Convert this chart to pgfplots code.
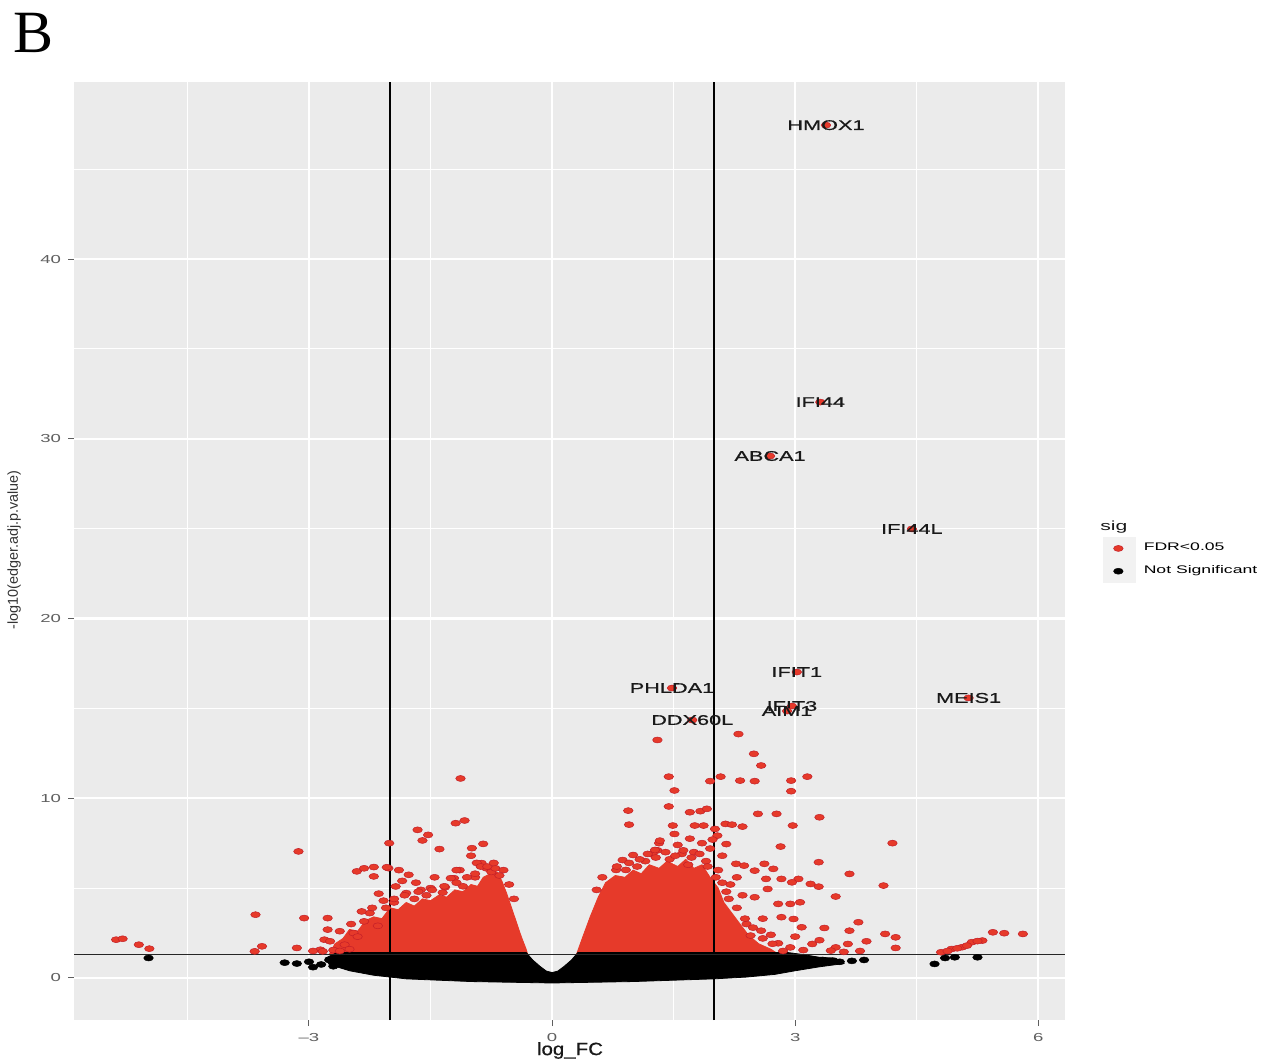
\documentclass[border=0pt]{standalone}
\usepackage{fontspec}
\setmainfont{Liberation Sans}
\newfontfamily\stretchsf[FakeStretch=1.6]{Liberation Sans}
\newfontfamily\labelsf[FakeStretch=1.55,FakeBold=0.8]{Liberation Sans}
\newfontfamily\midsf[FakeStretch=1.15,FakeBold=0.6]{Liberation Sans}
\newfontfamily\serifB{Liberation Serif}
\usepackage{pgfplots}
\pgfplotsset{compat=1.18}
\definecolor{myred}{RGB}{230,58,42}
\definecolor{mydarkred}{RGB}{195,30,40}
\definecolor{panelgray}{RGB}{235,235,235}
\definecolor{tickgray}{RGB}{95,95,95}
\pgfplotsset{
  redpts/.style={only marks, mark=*, mark size=1.5pt, mark options={xscale=1.6, fill=myred, draw=mydarkred, line width=0.25pt}},
  blkpts/.style={only marks, mark=*, mark size=1.5pt, mark options={xscale=1.6, fill=black, draw=black, line width=0.25pt}},
}
\begin{document}
\begin{tikzpicture}
\useasboundingbox (-37pt,-20.5pt) rectangle (604.5pt,510pt);
\begin{axis}[
  scale only axis, width=495.5pt, height=469pt,
  at={(0pt,0pt)}, anchor=south west,
  xmin=-5.90, xmax=6.33, ymin=-2.34, ymax=49.85,
  axis background/.style={fill=panelgray},
  axis line style={draw=none},
  xtick={-3,0,3,6}, xticklabels={{–3},0,3,6},
  ytick={0,10,20,30,40},
  minor xtick={-4.5,-1.5,1.5,4.5}, minor ytick={5,15,25,35,45},
  grid=both,
  major grid style={white, line width=1.1pt},
  minor grid style={white, line width=0.5pt},
  tick align=outside, xtick pos=left, ytick pos=left,
  major tick length=3pt, minor tick length=0pt,
  tick style={tickgray, line width=0.5pt},
  tick label style={font=\stretchsf\fontsize{5.8}{6}\selectfont, text=tickgray},
  /pgf/number format/assume math mode=true,
  xlabel={log\_FC},
  xlabel style={at={(axis description cs:0.5005,-0.0325)}, anchor=center, font=\midsf\fontsize{8.9}{10}\selectfont, text=black!90},
  ylabel={-log10(edger.adj.p.value)},
  ylabel style={at={(axis description cs:-0.0605,0.501)}, anchor=center, font=\fontsize{7.2}{8}\selectfont, text=black!80},
  legend image code/.code={\fill[black!5] (0pt,-5.5pt) rectangle (16pt,5.5pt); \draw[#1] plot coordinates {(7.5pt,0pt)};},
  legend style={at={(1.0383,0.5149)}, anchor=north west, draw=none, fill=none, inner sep=0pt, outer sep=0pt,
    font=\stretchsf\fontsize{5.5}{6}\selectfont, row sep=0pt, column sep=4pt,
    nodes={inner sep=0pt, minimum height=11pt, anchor=west}},
  legend cell align=left,
]
% dense red masses
\addplot[forget plot, fill=myred, draw=myred, line width=0.4pt] coordinates {
(-2.75,1.3) (-2.68,1.9) (-2.58,2.2) (-2.5,2.7) (-2.4,2.6) (-2.3,3.2) (-2.2,3.4) (-2.1,3.3) (-2.0,3.9) (-1.9,3.8) (-1.8,4.2) (-1.7,4.0) (-1.6,4.4) (-1.5,4.3) (-1.4,4.6) (-1.3,4.5) (-1.2,4.9) (-1.1,4.8) (-1.0,5.2) (-0.92,5.1) (-0.85,5.6) (-0.76,5.8) (-0.68,5.9) (-0.62,5.4) (-0.56,4.7) (-0.5,3.9) (-0.44,3.1) (-0.38,2.3) (-0.32,1.6) (-0.3,1.3)} -- cycle;
\addplot[forget plot, fill=myred, draw=myred, line width=0.4pt] coordinates {
(0.3,1.3) (0.38,2.3) (0.47,3.4) (0.57,4.5) (0.66,5.3) (0.78,5.7) (0.9,5.6) (1.0,6.0) (1.1,5.8) (1.2,6.3) (1.32,6.1) (1.42,6.5) (1.55,6.2) (1.65,6.6) (1.75,6.1) (1.85,6.3) (1.95,5.6) (2.05,5.0) (2.12,4.2) (2.22,3.6) (2.32,3.0) (2.42,2.4) (2.55,1.9) (2.7,1.6) (2.8,1.3)} -- cycle;
% scattered red points
\addplot[redpts] table {
x y
-5.38 2.13
-5.30 2.18
-5.10 1.85
-4.97 1.63
-3.66 3.52
-3.58 1.76
-3.67 1.48
-3.13 7.04
-3.06 3.33
-3.15 1.67
-2.77 3.33
-2.77 2.69
-2.81 2.13
-2.74 2.04
-2.86 1.57
-2.95 1.50
-2.83 1.48
-2.70 1.55
-2.45 2.50
-2.56 1.85
-2.62 1.50
-2.50 1.60
-2.41 5.93
-2.32 6.10
-2.20 6.17
-2.20 5.65
-2.14 4.69
-2.02 6.11
-2.01 7.50
-2.32 3.15
-2.25 3.61
-1.89 6.00
-1.77 5.74
-1.93 5.09
-1.80 4.72
-1.66 8.24
-1.53 7.96
-1.60 7.65
-1.39 7.17
-1.19 8.61
-1.08 8.76
-1.13 11.10
-0.99 7.22
-0.85 7.46
-0.87 6.39
-0.93 6.40
-0.81 6.10
-1.14 6.00
-1.21 5.55
-1.25 5.55
-1.18 6.00
-1.50 5.00
-1.32 5.05
-1.68 5.30
-1.45 5.60
-2.04 6.16
-1.95 4.20
-2.05 3.90
-2.15 2.90
-2.40 2.30
-1.70 4.40
-1.55 4.60
-1.35 4.75
-1.10 5.10
-0.95 5.60
-0.75 5.90
-0.70 6.10
-0.65 5.70
-1.62 4.90
-1.85 5.40
-1.00 6.80
-0.88 6.20
-2.62 2.60
-2.48 3.00
-2.35 3.70
-2.22 3.90
-2.08 4.30
-1.95 4.40
-1.82 4.60
-1.65 4.80
-1.48 4.90
-1.33 5.10
-1.18 5.30
-1.05 5.60
-0.95 5.80
-0.80 6.20
-0.72 6.40
-0.60 6.00
-0.53 5.20
-0.47 4.40
1.30 13.24
2.30 13.57
2.49 12.47
2.58 11.82
1.44 11.20
2.08 11.20
1.95 10.95
2.32 10.98
2.50 10.95
2.95 10.98
3.15 11.20
2.95 10.39
1.51 10.43
0.94 9.31
1.44 9.54
1.70 9.22
1.83 9.28
1.91 9.41
0.95 8.53
2.54 9.13
2.77 9.13
3.30 8.94
1.49 8.48
1.76 8.48
1.87 8.48
2.01 8.29
2.14 8.57
2.22 8.53
2.35 8.42
2.97 8.48
1.51 8.01
2.04 7.92
2.82 7.31
4.20 7.50
1.32 7.50
1.30 7.10
1.24 6.90
3.29 6.44
2.62 6.35
2.73 6.07
2.27 6.35
2.37 6.25
3.67 5.79
4.09 5.14
3.50 4.53
3.04 5.51
3.19 5.23
3.29 5.08
2.83 5.51
2.96 5.32
2.50 5.97
2.64 5.51
2.28 5.60
2.66 4.95
2.50 4.49
2.79 4.12
2.94 4.12
3.06 4.21
2.83 3.38
2.98 3.28
3.08 2.82
3.36 2.78
3.67 2.63
3.78 3.10
3.88 2.04
4.11 2.45
4.24 2.26
4.24 1.67
3.50 1.70
3.65 1.89
3.44 1.52
3.21 1.89
2.94 1.70
2.79 1.93
2.58 2.63
2.45 2.36
2.40 3.00
2.60 3.30
2.70 2.40
3.00 2.30
3.30 2.10
3.10 1.55
2.85 1.50
3.60 1.45
3.80 1.50
4.80 1.43
4.93 1.61
5.06 1.71
5.18 1.99
5.31 2.08
5.44 2.54
5.58 2.49
5.81 2.45
4.88 1.50
5.00 1.65
5.12 1.80
5.25 2.05
1.33 7.64
1.27 7.12
1.00 6.84
0.87 6.56
0.79 6.01
0.91 6.01
1.05 6.20
1.15 6.50
1.45 6.60
1.60 6.90
1.75 7.00
1.85 7.50
1.95 7.20
2.10 6.80
1.68 6.30
1.90 6.50
2.05 6.00
2.20 5.20
2.35 4.60
2.15 4.80
1.55 7.40
1.70 7.75
1.98 7.70
2.15 7.45
0.80 6.20
0.95 6.40
1.08 6.60
1.18 6.90
1.28 6.70
1.40 7.00
1.52 6.80
1.62 7.10
1.72 6.70
1.82 6.90
1.92 6.20
2.02 5.60
2.10 5.30
2.18 4.40
2.28 3.90
2.38 3.30
2.48 2.80
2.60 2.20
2.72 1.90
0.62 5.60
0.55 4.90
};
\addlegendentry{FDR<0.05}
% dense black band
\addplot[forget plot, fill=black, draw=black, line width=0.4pt] coordinates {
(-2.65,1.42) (-0.32,1.42) (-0.24,1.0) (-0.15,0.65) (-0.07,0.38) (0,0.3) (0.07,0.38) (0.15,0.65) (0.24,1.0) (0.32,1.42) (2.9,1.42) (3.1,1.3) (3.3,1.15) (3.5,1.1) (3.6,0.8) (3.3,0.62) (3.0,0.4) (2.75,0.2) (2.4,0.05) (2.0,-0.05) (1.0,-0.2) (0,-0.28) (-1.0,-0.2) (-1.8,-0.05) (-2.2,0.15) (-2.5,0.4) (-2.75,0.75) (-2.8,1.1)} -- cycle;
\addplot[blkpts] table {
x y
-4.98 1.11
-3.30 0.85
-3.15 0.80
-3.00 0.90
-2.95 0.60
-2.85 0.75
-2.75 1.00
-2.70 0.65
-2.60 0.90
-2.55 1.10
4.72 0.78
4.85 1.11
4.97 1.15
5.25 1.15
2.71 0.41
2.96 0.63
3.08 0.78
3.34 1.00
3.46 0.96
3.55 0.90
3.70 0.95
3.85 1.00
3.20 1.05
3.00 1.10
};
\addlegendentry{Not Significant}
% threshold lines
\addplot[forget plot, black, line width=1pt] coordinates {(-2,-2.34) (-2,49.85)};
\addplot[forget plot, black, line width=1pt] coordinates {(2,-2.34) (2,49.85)};
\addplot[forget plot, black!85, line width=0.8pt] coordinates {(-5.90,1.3) (6.33,1.3)};
% labelled genes
\addplot[forget plot, redpts, nodes near coords, point meta=explicit symbolic,
  nodes near coords style={anchor=center, inner sep=0pt, font=\labelsf\fontsize{7}{8}\selectfont, text=black!90}]
  table[meta=label] {
x y label
3.38 47.45 HMOX1
3.31 32.04 IFI44
2.69 29.04 ABCA1
4.44 24.98 IFI44L
3.02 17.02 IFIT1
1.48 16.13 PHLDA1
2.96 15.13 IFIT3
2.90 14.85 AIM1
5.14 15.58 MEIS1
1.73 14.35 DDX60L
};
\end{axis}
\node[anchor=west, inner sep=0pt, font=\stretchsf\fontsize{6.6}{7}\selectfont, text=black!90] at (513pt,246.5pt) {sig};
\node[anchor=base west, inner sep=0pt, font=\serifB\fontsize{30}{30}\selectfont] at (-30.5pt,483.5pt) {B};
\end{tikzpicture}
\end{document}
